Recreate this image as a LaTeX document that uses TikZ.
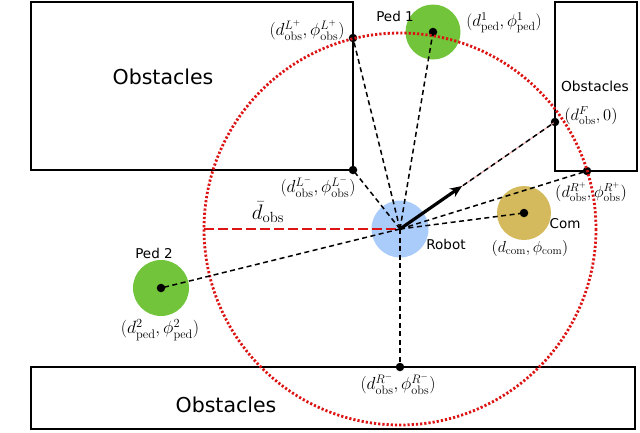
\RequirePackage{fix-cm}
\documentclass[tikz,border=0pt]{standalone}
\usepackage{fontspec}
\newfontfamily\dv{DejaVu Sans}
\usetikzlibrary{arrows.meta}
\definecolor{pedgreen}{RGB}{114,196,58}
\definecolor{robotblue}{RGB}{170,204,250}
\definecolor{comgold}{RGB}{212,186,92}
\definecolor{circred}{RGB}{220,20,20}
\tikzset{
  obsbox/.style={draw=black, line width=2pt},
  bigobs/.style={font=\dv\fontsize{20.5}{24}\selectfont},
  smallobs/.style={font=\dv\fontsize{13.8}{16}\selectfont},
  tag/.style={font=\dv\fontsize{13.5}{15}\selectfont},
  mlabel/.style={font=\fontsize{#1}{18}\selectfont, inner sep=0pt},
  mlabel/.default=17.5,
  agent/.style={circle, inner sep=0pt, minimum size=#1},
  pt/.style={circle, fill=black, inner sep=0pt, minimum size=8.5pt},
  ray/.style={draw=black, dash pattern=on 5pt off 3.5pt, line width=1.5pt},
}
\begin{document}
\begin{tikzpicture}[x=1pt,y=-1pt]
\useasboundingbox (0,0) rectangle (640,432);
% obstacles
\draw[obsbox] (31,1.5) rectangle (353,170);
\draw[obsbox] (555,2) rectangle (637,171);
\draw[obsbox] (31,367) rectangle (635,429);
\node[bigobs] (obsL) at (163,77) {Obstacles};
\node[smallobs] (obsR) at (595,86) {Obstacles};
\node[bigobs] (obsB) at (226,405) {Obstacles};
% agents
\node[agent=57pt, fill=robotblue] (robot) at (400,229) {};
\node[agent=55pt, fill=pedgreen] (ped1) at (433,32) {};
\node[agent=56pt, fill=pedgreen] (ped2) at (161,288) {};
\node[agent=54pt, fill=comgold] (com) at (524,213) {};
\coordinate (rc) at (400,229);
% points
\node[pt] (Lp) at (353,38) {};
\node[pt] (Lm) at (353,170) {};
\node[pt] (F) at (555,122) {};
\node[pt] (Rp) at (587,171) {};
\node[pt] (Rm) at (400,367) {};
\node[pt] (p1) at (ped1.center) {};
\node[pt] (p2) at (ped2.center) {};
\node[pt] (pc) at (com.center) {};
% sensing circle
\draw[circred, line width=2.8pt, dash pattern=on 2.2pt off 2pt] (rc) circle (196);
\coordinate (leftedge) at (204,229);
% red reference line
\draw[circred!45, line width=0.8pt] (rc) -- (F.center);
\draw[circred, line width=1.8pt, dash pattern=on 10pt off 4pt] (leftedge) -- (rc);
% rays
\foreach \t in {Lp,Lm,F,Rp,Rm,p1,p2,pc}
  \draw[ray] (rc) -- (\t.center);
% heading arrow
\coordinate (head) at (462,186);
\draw[line width=3.2pt, -{Stealth[length=12pt,width=10pt]}] (rc) -- (head);
% labels
\node[mlabel] (lLp) at (307,30) {$(d^{L^+}_{\mathrm{obs}},\phi^{L^+}_{\mathrm{obs}})$};
\node[mlabel] (lLm) at (318,187) {$(d^{L^-}_{\mathrm{obs}},\phi^{L^-}_{\mathrm{obs}})$};
\node[mlabel=17] (lp1) at (504,23) {$(d^{1}_{\mathrm{ped}},\phi^{1}_{\mathrm{ped}})$};
\node[mlabel=16.5] (lF) at (591,116) {$(d^{F}_{\mathrm{obs}},0)$};
\node[mlabel=16.5] (lRp) at (591,192) {$(d^{R^+}_{\mathrm{obs}},\phi^{R^+}_{\mathrm{obs}})$};
\node[mlabel] (lRm) at (398,384) {$(d^{R^-}_{\mathrm{obs}},\phi^{R^-}_{\mathrm{obs}})$};
\node[mlabel=16] (lc) at (530,248) {$(d_{\mathrm{com}},\phi_{\mathrm{com}})$};
\node[mlabel=17.7] (lp2) at (160,330) {$(d^{2}_{\mathrm{ped}},\phi^{2}_{\mathrm{ped}})$};
\node[mlabel=21] (ld) at (268,212) {$\bar{d}_{\mathrm{obs}}$};
\node[tag] (tp1) at (395,16) {Ped 1};
\node[tag] (tp2) at (154,253) {Ped 2};
\node[tag] (tr) at (446,244) {Robot};
\node[tag] (tc) at (565,224) {Com};
\end{tikzpicture}
\end{document}
